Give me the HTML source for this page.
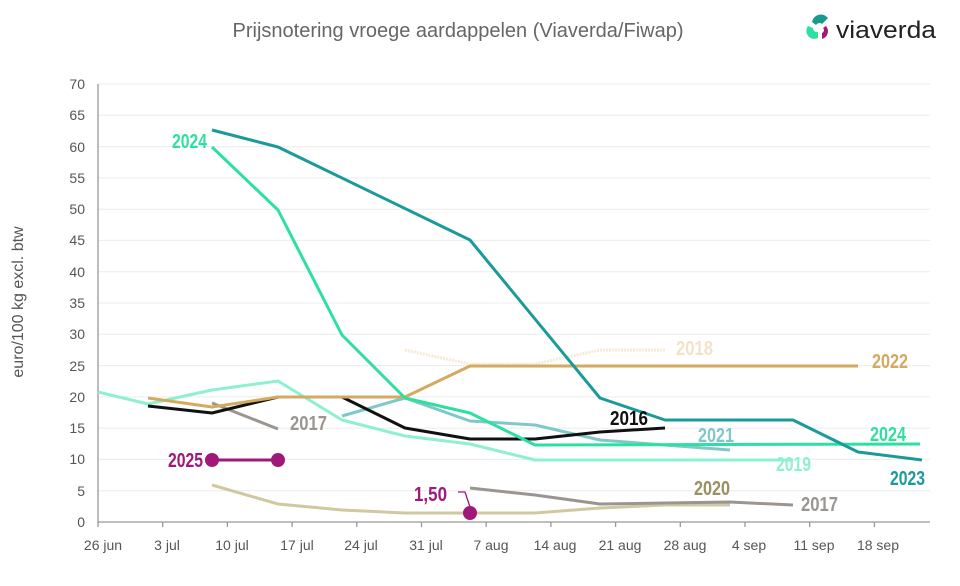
<!DOCTYPE html>
<html><head><meta charset="utf-8"><style>
body{margin:0;background:#fff;}
svg{display:block;font-family:"Liberation Sans",sans-serif;}
.t{font-family:"Liberation Sans",sans-serif;font-weight:bold;font-size:20px;}
</style></head><body>
<svg width="960" height="586" viewBox="0 0 960 586">
<text x="458" y="37" text-anchor="middle" font-size="20" fill="#666">Prijsnotering vroege aardappelen (Viaverda/Fiwap)</text>
<!-- logo -->
<g>
<path d="M812,22 A9,9 0 0 1 828,18 L822,24 A4,4 0 0 0 816,25 Z" fill="#1a9a8a"/>
<path d="M808,26 A8,8 0 0 0 818,38 L818,32 A4,4 0 0 1 813,28 Z" fill="#2ee0a0"/>
<path d="M826,26 A8,8 0 0 1 822,39 L822,33 A3,3 0 0 0 823,28 Z" fill="#a0187a"/>
</g>
<text x="836" y="38" font-size="24" fill="#222" textLength="100" lengthAdjust="spacingAndGlyphs">viaverda</text>
<g stroke="#ececec" stroke-width="1">
<line x1="98" x2="930" y1="490.7" y2="490.7"/><line x1="98" x2="930" y1="459.4" y2="459.4"/>
<line x1="98" x2="930" y1="428.1" y2="428.1"/><line x1="98" x2="930" y1="396.9" y2="396.9"/>
<line x1="98" x2="930" y1="365.6" y2="365.6"/><line x1="98" x2="930" y1="334.3" y2="334.3"/>
<line x1="98" x2="930" y1="303" y2="303"/><line x1="98" x2="930" y1="271.7" y2="271.7"/>
<line x1="98" x2="930" y1="240.4" y2="240.4"/><line x1="98" x2="930" y1="209.2" y2="209.2"/>
<line x1="98" x2="930" y1="177.9" y2="177.9"/><line x1="98" x2="930" y1="146.6" y2="146.6"/>
<line x1="98" x2="930" y1="115.3" y2="115.3"/><line x1="98" x2="930" y1="84" y2="84"/>
</g>
<g stroke="#999" stroke-width="1.3">
<line x1="98" y1="84" x2="98" y2="522"/><line x1="98" y1="522" x2="930" y2="522"/>
<line x1="98" y1="522" x2="98" y2="527"/><line x1="162.7" y1="522" x2="162.7" y2="527"/><line x1="227.4" y1="522" x2="227.4" y2="527"/><line x1="292.1" y1="522" x2="292.1" y2="527"/><line x1="356.8" y1="522" x2="356.8" y2="527"/><line x1="421.5" y1="522" x2="421.5" y2="527"/><line x1="486.2" y1="522" x2="486.2" y2="527"/><line x1="550.9" y1="522" x2="550.9" y2="527"/><line x1="615.6" y1="522" x2="615.6" y2="527"/><line x1="680.3" y1="522" x2="680.3" y2="527"/><line x1="745" y1="522" x2="745" y2="527"/><line x1="809.7" y1="522" x2="809.7" y2="527"/><line x1="874.4" y1="522" x2="874.4" y2="527"/>
</g>
<g font-size="14" fill="#555" text-anchor="end">
<text x="85" y="527">0</text><text x="85" y="496">5</text><text x="85" y="464">10</text><text x="85" y="433">15</text><text x="85" y="402">20</text><text x="85" y="371">25</text><text x="85" y="339">30</text><text x="85" y="308">35</text><text x="85" y="277">40</text><text x="85" y="245">45</text><text x="85" y="214">50</text><text x="85" y="183">55</text><text x="85" y="152">60</text><text x="85" y="120">65</text><text x="85" y="89">70</text>
</g>
<g font-size="14" fill="#555" text-anchor="middle">
<text x="103" y="550">26 jun</text><text x="167" y="550">3 jul</text><text x="232" y="550">10 jul</text><text x="297" y="550">17 jul</text><text x="361" y="550">24 jul</text><text x="426" y="550">31 jul</text><text x="491" y="550">7 aug</text><text x="555" y="550">14 aug</text><text x="620" y="550">21 aug</text><text x="685" y="550">28 aug</text><text x="749" y="550">4 sep</text><text x="814" y="550">11 sep</text><text x="878" y="550">18 sep</text>
</g>
<text transform="translate(23,302) rotate(-90)" text-anchor="middle" font-size="16" fill="#555">euro/100 kg excl. btw</text>
<g fill="none" stroke-width="3" stroke-linejoin="round">
<polyline stroke="#f6ead8" stroke-dasharray="2,1" stroke-width="3" points="405,350 470,364 535,364 600,350 665,350"/>
<polyline stroke="#d0c8a0" points="212,485 278,504 342,510 405,513 535,513 600,508 665,505 730,505"/>
<polyline stroke="#9a9590" points="212,403 278,429"/>
<polyline stroke="#9a9590" points="470,488 535,495 600,504 665,503 730,502 793,505"/>
<polyline stroke="#80c8c8" points="342,416 405,398 470,421 535,425 600,440 730,450"/>
<polyline stroke="#8ef0d0" points="98,392 148,404 212,390 278,381 342,420 405,436 470,444 535,460 793,460"/>
<polyline stroke="#111" points="148,406 212,413 278,397 342,397 405,428 470,439 535,439 600,432 665,428"/>
<polyline stroke="#d4aa60" points="148,398 212,407 278,397 405,397 470,366 858,366"/>
<polyline stroke="#2ee0a0" points="212,147 278,210 342,335 405,398 470,413 535,445 920,444"/>
<polyline stroke="#1a9a9a" points="212,130 278,147 470,240 600,398 665,420 793,420 858,452 922,460"/>
<polyline stroke="#a0187a" points="212,460 278,460"/>
<polyline stroke="#a0187a" stroke-width="1.3" points="458,492 465,492 470,507"/>
</g>
<g fill="#a0187a"><circle cx="212" cy="460" r="7"/><circle cx="278" cy="460" r="7"/><circle cx="470" cy="513" r="7"/></g>
<g class="t" lengthAdjust="spacingAndGlyphs">
<text x="172" y="148" fill="#2ee0a0" textLength="35" lengthAdjust="spacingAndGlyphs">2024</text>
<text x="290" y="430" fill="#9a9590" textLength="37" lengthAdjust="spacingAndGlyphs">2017</text>
<text x="168" y="467" fill="#a0187a" textLength="35" lengthAdjust="spacingAndGlyphs">2025</text>
<text x="414" y="501" fill="#a0187a" textLength="33" lengthAdjust="spacingAndGlyphs">1,50</text>
<text x="610" y="425" fill="#111" textLength="38" lengthAdjust="spacingAndGlyphs">2016</text>
<text x="676" y="355" fill="#f3e2c8" textLength="37" lengthAdjust="spacingAndGlyphs">2018</text>
<text x="872" y="368" fill="#d4aa60" textLength="36" lengthAdjust="spacingAndGlyphs">2022</text>
<text x="698" y="442" fill="#80c8c8" textLength="36" lengthAdjust="spacingAndGlyphs">2021</text>
<text x="776" y="471" fill="#8ef0d0" textLength="35" lengthAdjust="spacingAndGlyphs">2019</text>
<text x="870" y="441" fill="#2ee0a0" textLength="36" lengthAdjust="spacingAndGlyphs">2024</text>
<text x="890" y="485" fill="#1a9a9a" textLength="35" lengthAdjust="spacingAndGlyphs">2023</text>
<text x="694" y="495" fill="#9a9060" textLength="36" lengthAdjust="spacingAndGlyphs">2020</text>
<text x="801" y="511" fill="#9a9590" textLength="37" lengthAdjust="spacingAndGlyphs">2017</text>
</g>
</svg>
</body></html>
